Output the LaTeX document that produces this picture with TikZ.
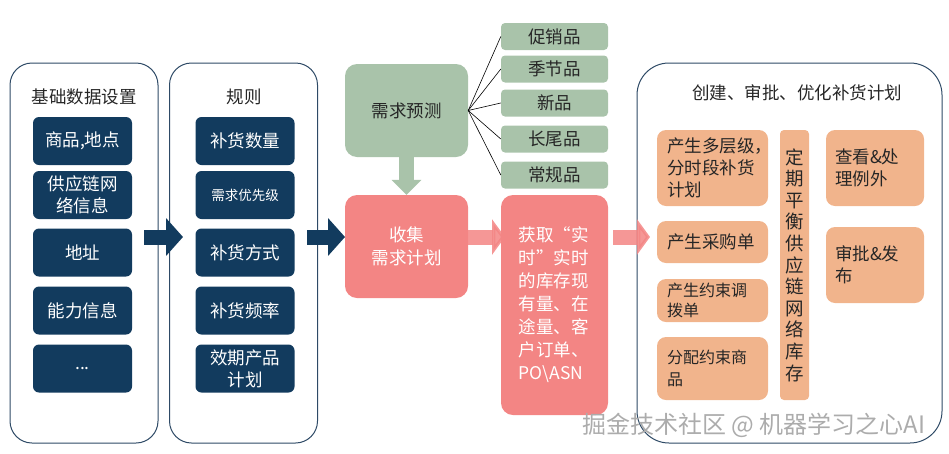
\documentclass[tikz,border=0pt]{standalone}
\usepackage{fontspec}
\setmainfont{Noto Sans CJK SC}
\usepackage{tikz}
\usetikzlibrary{arrows.meta,positioning}
\definecolor{PlanNavy}{HTML}{123B5E}
\definecolor{PlanLine}{HTML}{2E4A66}
\definecolor{PlanSage}{HTML}{A9C3AA}
\definecolor{PlanPink}{HTML}{F38584}
\definecolor{PlanPeach}{HTML}{F1B48C}
\definecolor{PlanInk}{HTML}{262626}
\tikzset{
  >=Latex,
  groupbox/.style={draw=PlanLine,line width=1pt,rounded corners=22pt,
    minimum width=148pt,minimum height=380pt},
  grouptitle/.style={font=\fontsize{17.5}{21}\selectfont,text=PlanInk},
  itembox/.style={fill=PlanNavy,rounded corners=6pt,minimum width=99pt,minimum height=48pt,
    text=white,align=center,inner sep=2pt,font=\fontsize{17.5}{22}\selectfont},
  sagebox/.style={fill=PlanSage,rounded corners=12pt,text=PlanInk,align=center,
    font=\fontsize{17.5}{22}\selectfont},
  kindbox/.style={fill=PlanSage,rounded corners=4pt,minimum width=107pt,minimum height=27pt,
    inner sep=0pt,text=PlanInk,font=\fontsize{17.5}{20}\selectfont},
  pinkbox/.style={fill=PlanPink,rounded corners=12pt,text=white,
    font=\fontsize{17.5}{23}\selectfont},
  peachbox/.style={fill=PlanPeach,rounded corners=9pt,text=PlanInk,align=left,
    inner xsep=10pt,inner ysep=0pt,text width=91pt,font=\fontsize{17.5}{22}\selectfont},
  navyflow/.style={line width=15pt,draw=PlanNavy,-{Triangle[length=17pt,width=37pt]}},
  sageflow/.style={line width=15pt,draw=PlanSage,-{Triangle[length=15pt,width=29pt]}},
  pinkflow/.style={line width=15pt,draw=PlanPink,opacity=0.85,-{Triangle[length=13pt,width=35pt]}},
  branch/.style={draw=black,line width=0.6pt}
}
\begin{document}
\begin{tikzpicture}[x=1pt,y=-1pt]
  \useasboundingbox (0,0) rectangle (949,453);

  \node[groupbox] (basedata) at (84,253) {};
  \node[grouptitle] (basetitle) at (84,97) {基础数据设置};
  \node[itembox] (goods) at (82.5,141) {商品,地点};
  \node[itembox] (network) at (82.5,195) {供应链网\\络信息};
  \node[itembox] (address) at (82.5,252.5) {地址};
  \node[itembox] (capacity) at (82.5,310.5) {能力信息};
  \node[itembox] (more) at (82.5,368.5) {...};

  \node[groupbox] (rules) at (243.5,253) {};
  \node[grouptitle] (rulestitle) at (244,97) {规则};
  \node[itembox] (qty) at (245,141) {补货数量};
  \node[itembox,font=\fontsize{13.5}{16}\selectfont] (priority) at (245,195) {需求优先级};
  \node[itembox] (mode) at (245,252.5) {补货方式};
  \node[itembox] (freq) at (245,310.5) {补货频率};
  \node[itembox] (shelf) at (245,368.5) {效期产品\\计划};

  \node[sagebox,minimum width=123pt,minimum height=93pt] (forecast) at (406.5,110.5) {需求预测};
  \node[kindbox] (promo) at (554.5,36.5) {促销品};
  \node[kindbox] (season) at (554.5,69) {季节品};
  \node[kindbox] (newitem) at (554.5,103) {新品};
  \node[kindbox] (longtail) at (554.5,139) {长尾品};
  \node[kindbox] (regular) at (554.5,175) {常规品};
  \foreach \k in {promo,season,newitem,longtail,regular}
    \draw[branch] (forecast.east) -- (\k.west);

  \node[pinkbox,align=center,minimum width=123pt,minimum height=103pt] (collect) at (406.5,246.5) {收集\\需求计划};
  \node[pinkbox,align=left,text width=72pt,inner xsep=17.5pt,minimum height=220pt] (stock) at (554.5,305)
    {获取“实\\时”实时\\的库存现\\有量、在\\途量、客\\户订单、\\PO\textbackslash ASN};

  \node[groupbox,rounded corners=32pt,minimum width=305pt] (create) at (789.5,253) {};
  \node[grouptitle] (createtitle) at (797,93) {创建、审批、优化补货计划};
  \node[peachbox,minimum height=76pt] (multilevel) at (712.5,168) {产生多层级，\\分时段补货\\计划};
  \node[peachbox,minimum height=42pt] (purchase) at (712.5,242) {产生采购单};
  \node[peachbox,minimum height=43pt,font=\fontsize{16}{20}\selectfont] (transfer) at (712.5,300.5) {产生约束调\\拨单};
  \node[peachbox,minimum height=63pt,font=\fontsize{16}{22}\selectfont] (allocate) at (712.5,368.5) {分配约束商\\品};
  \node[fill=PlanPeach,rounded corners=4pt,minimum width=29pt,minimum height=270pt,inner sep=0pt,
    align=center,text=PlanInk,font=\fontsize{18.5}{21.6}\selectfont] (balance) at (794.5,265)
    {定\\期\\平\\衡\\供\\应\\链\\网\\络\\库\\存};
  \node[peachbox,text width=80pt,inner xsep=9pt,minimum height=76pt] (exception) at (875,168) {查看\&处\\理例外};
  \node[peachbox,text width=80pt,inner xsep=9pt,minimum height=76pt] (release) at (875,265) {审批\&发\\布};

  \coordinate (navyA) at (144,237);
  \coordinate (navyB) at (183,237);
  \coordinate (navyC) at (307,237);
  \coordinate (navyD) at (345,237);
  \coordinate (pinkA) at (468,237);
  \coordinate (pinkB) at (505,237);
  \coordinate (pinkC) at (613,237);
  \coordinate (pinkD) at (650,237);
  \draw[navyflow] (navyA) -- (navyB);
  \draw[navyflow] (navyC) -- (navyD);
  \draw[sageflow] (forecast.south) -- (collect.north);
  \draw[pinkflow] (pinkA) -- (pinkB);
  \draw[pinkflow] (pinkC) -- (pinkD);

  \node[text=gray!65,font=\fontsize{24}{28}\selectfont] (mark) at (754,425) {掘金技术社区 @ 机器学习之心AI};
\end{tikzpicture}
\end{document}
